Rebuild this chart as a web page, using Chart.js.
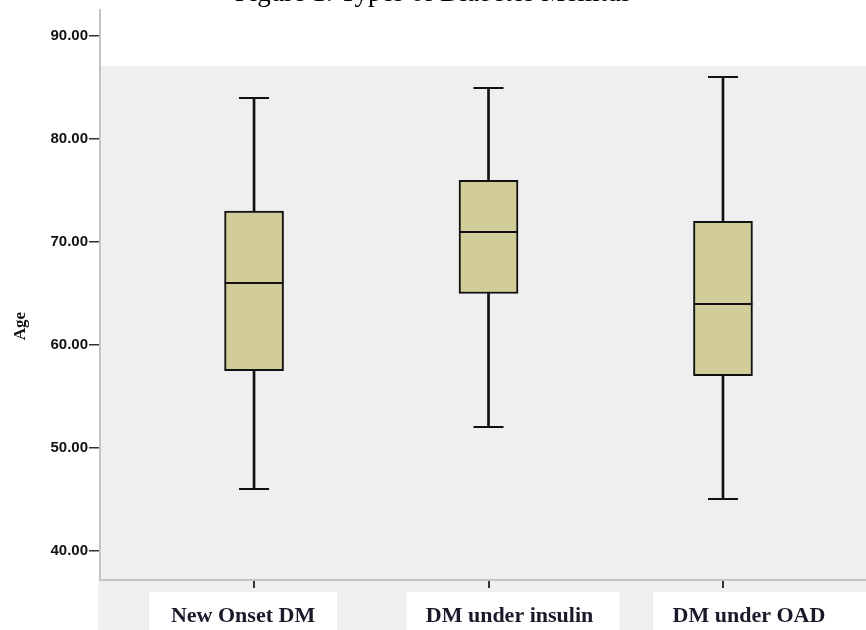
<!DOCTYPE html>
<html>
<head>
<meta charset="utf-8">
<script src="https://cdn.jsdelivr.net/npm/chart.js@4.4.0/dist/chart.umd.min.js"></script>
<style>
  html, body { margin: 0; padding: 0; background: #fff; }
  #wrap { position: relative; width: 866px; height: 630px; }
</style>
</head>
<body>
<div id="wrap"><canvas id="chart_diabetesAgeBoxplot"></canvas></div>
<script>
// data
var categories = ['New Onset DM', 'DM under insulin', 'DM under OAD'];
var ageMin = [46, 52, 45];
var ageQ1 = [57.5, 65, 57];
var ageMedian = [66, 71, 64];
var ageQ3 = [73, 76, 72];
var ageMax = [84, 85, 86];
var yTickValues = [40, 50, 60, 70, 80, 90];

// layout bits (not data)
var panelTopValue = 87.1;
var labelShift = [-11, 21, 26];
var labelBoxLeft = [-105, -82, -70];
var labelBoxRight = [83, 131, 150];

var whiskerData = categories.map(function(c, i) { return {x: i, y: [ageMin[i], ageMax[i]]}; });
var boxData = categories.map(function(c, i) { return {x: i, y: [ageQ1[i], ageQ3[i]]}; });

var boxplotPlugin = {
    id: 'boxplotPlugin',
    beforeDraw: function(chart) {
        var ctx = chart.ctx, area = chart.chartArea;
        var x = chart.scales.x, y = chart.scales.y;
        ctx.save();
        ctx.fillStyle = '#ffffff';
        ctx.fillRect(0, 0, chart.width, chart.height);
        ctx.fillStyle = '#efefef';
        var top = y.getPixelForValue(panelTopValue);
        ctx.fillRect(area.left, top, area.right - area.left, area.bottom - top);
        ctx.fillRect(area.left - 2, area.bottom + 1, area.right - area.left + 2, chart.height - area.bottom);
        ctx.fillStyle = '#ffffff';
        categories.forEach(function(c, i) {
            var px = x.getPixelForValue(i);
            ctx.fillRect(px + labelBoxLeft[i], area.bottom + 12, labelBoxRight[i] - labelBoxLeft[i], chart.height - area.bottom - 12);
        });
        ctx.restore();
    },
    afterDatasetsDraw: function(chart) {
        var ctx = chart.ctx;
        var x = chart.scales.x, y = chart.scales.y;
        var boxes = chart.getDatasetMeta(1).data;
        ctx.save();
        ctx.strokeStyle = '#111';
        ctx.lineWidth = 2;
        categories.forEach(function(c, i) {
            var px = x.getPixelForValue(i);
            var half = boxes[i].width / 2;
            ctx.beginPath();
            var ym = Math.round(y.getPixelForValue(ageMedian[i]));
            ctx.moveTo(px - half, ym);
            ctx.lineTo(px + half, ym);
            [ageMin[i], ageMax[i]].forEach(function(v) {
                var yy = Math.round(y.getPixelForValue(v));
                ctx.moveTo(px - 15, yy);
                ctx.lineTo(px + 15, yy);
            });
            ctx.stroke();
        });
        ctx.restore();
    },
    afterDraw: function(chart) {
        var ctx = chart.ctx, area = chart.chartArea;
        var x = chart.scales.x;
        ctx.save();
        ctx.fillStyle = '#1a1a2a';
        ctx.font = 'bold 22px "Liberation Serif", "Times New Roman", serif';
        ctx.textAlign = 'center';
        ctx.textBaseline = 'alphabetic';
        categories.forEach(function(c, i) {
            ctx.fillText(c, x.getPixelForValue(i) + labelShift[i], area.bottom + 42);
        });
        // y axis title
        ctx.fillStyle = '#111';
        ctx.font = 'bold 17px "Liberation Serif", "Times New Roman", serif';
        ctx.translate(21, 326);
        ctx.rotate(-Math.PI / 2);
        ctx.textBaseline = 'middle';
        ctx.fillText('Age', 0, 0);
        ctx.restore();
    }
};

var chart_diabetesAgeBoxplot = new Chart(document.getElementById('chart_diabetesAgeBoxplot'), {
    type: 'bar',
    data: {
        datasets: [
            {
                label: 'Whisker',
                data: whiskerData,
                backgroundColor: '#111',
                borderWidth: 0,
                barThickness: 2,
                grouped: false,
                order: 2
            },
            {
                label: 'Age',
                data: boxData,
                backgroundColor: '#d2cd98',
                borderColor: '#111',
                borderWidth: 2,
                borderSkipped: false,
                barThickness: 59,
                grouped: false,
                order: 1
            }
        ]
    },
    options: {
        animation: false,
        responsive: true,
        maintainAspectRatio: false,
        layout: { padding: 0 },
        plugins: {
            legend: { display: false },
            tooltip: { enabled: false },
            title: {
                display: true,
                text: 'Figure 1: Types of Diabetes Mellitus',
                color: '#000',
                font: { family: '"Liberation Serif", "Times New Roman", serif', size: 27, weight: 'normal', lineHeight: 1.2 },
                padding: { top: -25, bottom: -0.4 }
            }
        },
        scales: {
            x: {
                type: 'linear',
                offset: false,
                min: -0.657,
                max: 2.61,
                afterBuildTicks: function(scale) {
                    scale.ticks = categories.map(function(c, i) { return {value: i}; });
                },
                afterFit: function(scale) { scale.height = 50; },
                border: { color: '#c4c4c4', width: 2 },
                grid: { offset: false, drawOnChartArea: false, drawTicks: true, tickLength: 8, tickColor: '#333', lineWidth: 2 },
                ticks: {
                    callback: function() { return ''; }
                }
            },
            y: {
                type: 'linear',
                min: 37.15,
                max: 92.55,
                afterBuildTicks: function(scale) {
                    scale.ticks = yTickValues.map(function(v) { return {value: v}; });
                },
                afterFit: function(scale) { scale.width = 100; },
                border: { color: '#c4c4c4', width: 2 },
                grid: { drawOnChartArea: false, drawTicks: true, tickLength: 11, tickColor: '#333', lineWidth: 1.5 },
                ticks: {
                    color: '#111',
                    padding: 1,
                    font: { family: '"Liberation Sans", Arial, sans-serif', size: 15, weight: 'bold' },
                    callback: function(value) { return Number(value).toFixed(2); }
                }
            }
        }
    },
    plugins: [boxplotPlugin]
});
</script>
</body>
</html>
